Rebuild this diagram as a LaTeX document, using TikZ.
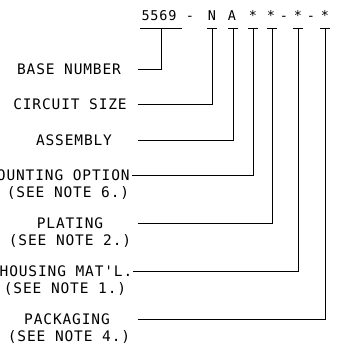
\documentclass[tikz,border=0pt]{standalone}
\usepackage{fontspec}
\newfontfamily\cadfont[LetterSpace=6]{DejaVu Sans Mono}
\usetikzlibrary{positioning}

\begin{document}
\begin{tikzpicture}[x=1pt,y=-1pt,line width=0.8pt]
    \tikzstyle{code}=[inner sep=0pt, anchor=base, font=\cadfont\fontsize{13.5}{14}\selectfont]
    \tikzstyle{lbl}=[inner sep=0pt, anchor=base, font=\cadfont\fontsize{14.5}{16}\selectfont]
    \tikzstyle{lead}=[draw=black]
    \useasboundingbox (0,0) rectangle (339,352);

	% part number
	\node[code] (C) at (159,21){5569};
	\node[code] (D1) at (190,21){-};
	\node[code] (N) at (212,21){N};
	\node[code] (A) at (232,21){A};
	\node[code] (S1) at (253,21){*};
	\node[code] (S2) at (271,21){*};
	\node[code] (D2) at (284,21){-};
	\node[code] (S3) at (298,21){*};
	\node[code] (D3) at (311,21){-};
	\node[code] (S4) at (325,21){*};

	% labels
	\node[lbl] (base) at (69,74.5){BASE NUMBER};
	\node[lbl] (size) at (70,109.5){CIRCUIT SIZE};
	\node[lbl] (asm) at (74,145.5){ASSEMBLY};
	\node[lbl, anchor=base east] (mnt) at (130,180.5){MOUNTING OPTION};
	\node[lbl] (mnt-n) at (68,197){(SEE NOTE 6.)};
	\node[lbl] (plt) at (70,228.5){PLATING};
	\node[lbl] (plt-n) at (70,245){(SEE NOTE 2.)};
	\node[lbl] (hsg) at (66,276.5){HOUSING MAT'L.};
	\node[lbl] (hsg-n) at (65,293){(SEE NOTE 1.)};
	\node[lbl] (pkg) at (67,324.5){PACKAGING};
	\node[lbl] (pkg-n) at (69,341){(SEE NOTE 4.)};

	% leaders
	\coordinate (C-t) at (161,28);
	\coordinate (C-e) at (138,69);
	\draw[lead] (140,28) -- (182,28);
	\draw[lead] (C-t) |- (C-e);

	\foreach \n/\x/\y/\s in {N/212/104/138, A/233/140/138, S1/253/175/132, S2/272/223/138, S3/298/271/133, S4/325/319/138}{
		\coordinate (\n-t) at (\x,28);
		\coordinate (\n-e) at (\s,\y);
		\draw[lead] ([xshift=-5pt]\n-t) -- ([xshift=5pt]\n-t);
		\draw[lead] (\n-t) |- (\n-e);
		}

\end{tikzpicture}
\end{document}
